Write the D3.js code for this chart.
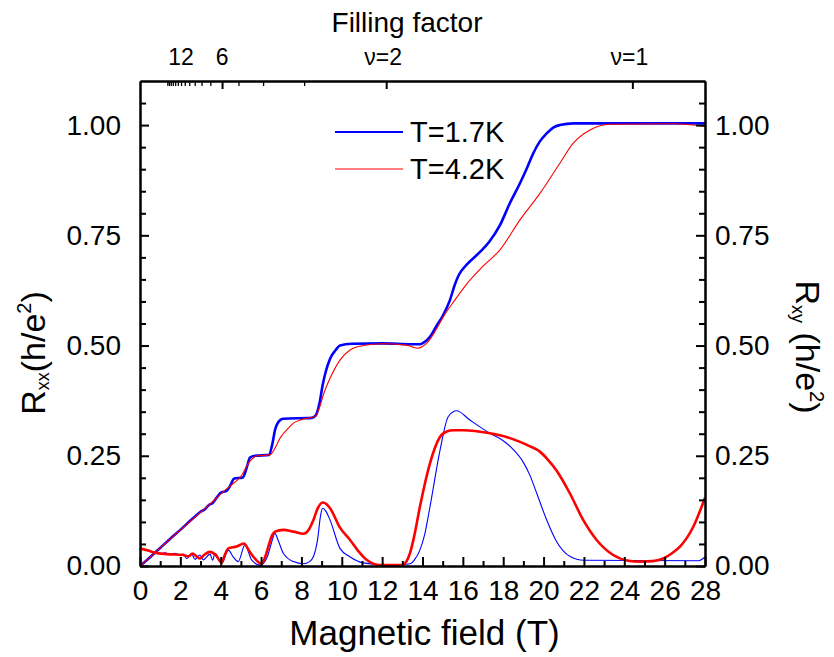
<!DOCTYPE html>
<html>
<head>
<meta charset="utf-8">
<script src="https://cdn.jsdelivr.net/npm/d3@7.9.0/dist/d3.min.js"></script>
<style>
  body { margin: 0; background: #fff; }
  svg text { font-family: Arial, "Liberation Sans", sans-serif; fill: #000; }
</style>
</head>
<body>
<div id="chart"></div>
<script>
// Hall resistance Rxy (h/e^2) vs field (T)
const rxyBlue = [[0,0],[0.5,0.02],[1,0.041],[1.5,0.062],[2,0.082],[2.5,0.103],[2.8,0.115],[3.0,0.123],[3.2,0.128],
  [3.4,0.138],[3.6,0.143],[3.8,0.155],[4.0,0.166],[4.3,0.171],[4.5,0.185],[4.65,0.198],[5.1,0.201],[5.3,0.225],
  [5.45,0.246],[5.7,0.25],[6.4,0.252],[6.55,0.275],[6.7,0.31],[6.85,0.326],[7.1,0.334],[8.5,0.336],[8.7,0.341],
  [8.9,0.37],[9.05,0.41],[9.2,0.44],[9.42,0.47],[9.7,0.49],[9.91,0.5],[10.5,0.504],[12,0.505],[13.5,0.503],
  [13.87,0.503],[14.1,0.508],[14.37,0.52],[14.7,0.545],[15.0,0.567],[15.36,0.603],[15.6,0.638],[15.8,0.66],
  [16.2,0.684],[16.8,0.71],[17.3,0.735],[17.84,0.773],[18.3,0.82],[18.83,0.868],[19.2,0.905],[19.49,0.936],
  [19.8,0.962],[20.15,0.981],[20.5,0.995],[20.8,1.0],[21.5,1.004],[28,1.004]];
const rxyRed = [[0,0],[0.5,0.02],[1,0.041],[2,0.082],[3,0.122],[3.5,0.142],[4,0.163],[4.5,0.183],[5,0.203],
  [5.45,0.238],[5.8,0.25],[6.44,0.252],[6.7,0.268],[6.94,0.29],[7.3,0.31],[7.6,0.324],[8.0,0.332],[8.67,0.339],
  [8.9,0.36],[9.1,0.39],[9.42,0.426],[9.91,0.467],[10.41,0.49],[11.07,0.5],[12,0.504],[13.2,0.501],[13.5,0.497],
  [13.74,0.494],[14.0,0.498],[14.2,0.505],[14.6,0.53],[15.03,0.565],[15.6,0.603],[16.2,0.64],[17,0.68],
  [17.84,0.717],[18.83,0.785],[19.82,0.845],[20.8,0.913],[21.47,0.959],[22.3,0.989],[23.29,1.002],[26.5,1.003],[28,0.997]];

// Longitudinal resistance Rxx
const rxxBlue = [[0.75,0.03],[1.0,0.028],[1.24,0.03],[1.5,0.026],[1.7,0.029],[1.98,0.025],[2.15,0.027],[2.31,0.017],
  [2.56,0.027],[2.73,0.015],[2.97,0.025],[3.14,0.014],[3.47,0.027],[3.6,0.013],[3.72,0.029],[4.05,0.006],[4.38,0.036],
  [4.6,0.022],[4.87,0.01],[5.2,0.048],[5.53,0.014],[5.95,0.002],[6.3,0.02],[6.5,0.05],[6.69,0.074],[6.85,0.058],
  [7.1,0.029],[7.6,0.01],[8.1,0.005],[8.4,0.01],[8.59,0.021],[8.8,0.06],[8.95,0.115],[9.05,0.131],[9.2,0.125],
  [9.42,0.104],[9.91,0.04],[10.4,0.021],[11.07,0.007],[12,0.003],[12.9,0.003],[13.38,0.005],[13.6,0.014],
  [13.87,0.036],[14.1,0.07],[14.37,0.134],[14.87,0.263],[15.28,0.339],[15.69,0.352],[16.35,0.331],[17.34,0.301],
  [18.0,0.284],[18.5,0.264],[19.0,0.235],[19.33,0.205],[19.66,0.165],[20.15,0.105],[20.65,0.055],[21.3,0.022],
  [22.0,0.013],[27.7,0.012],[28,0.021]];
const rxxRed = [[0,0.04],[0.4,0.035],[0.74,0.03],[1.32,0.027],[2.15,0.025],[2.4,0.022],[2.6,0.028],[2.8,0.022],
  [2.97,0.017],[3.2,0.026],[3.47,0.032],[3.75,0.025],[4.05,0.008],[4.2,0.025],[4.38,0.04],[4.79,0.044],[5.15,0.051],
  [5.4,0.035],[5.62,0.021],[6.03,0.005],[6.2,0.02],[6.36,0.044],[6.55,0.07],[6.69,0.078],[7.1,0.082],[7.6,0.078],
  [8.1,0.073],[8.4,0.085],[8.59,0.104],[8.8,0.13],[9.05,0.144],[9.25,0.14],[9.42,0.131],[9.91,0.087],[10.41,0.059],
  [10.8,0.035],[11.23,0.014],[11.89,0.002],[12.97,0.002],[13.2,0.01],[13.38,0.029],[13.6,0.07],[13.87,0.134],
  [14.37,0.233],[14.87,0.293],[15.2,0.305],[15.53,0.308],[16.02,0.308],[17.34,0.301],[18.2,0.292],[18.8,0.282],
  [19.3,0.272],[19.8,0.26],[20.2,0.242],[20.65,0.216],[21.3,0.165],[21.97,0.104],[22.63,0.059],[23.45,0.025],
  [24.2,0.012],[24.78,0.01],[25.4,0.011],[25.93,0.017],[26.4,0.03],[26.76,0.044],[27.42,0.089],[28,0.155]];

const xTicks = d3.range(0, 29, 2);
const xMinor = d3.range(1, 28, 2);
const yTicks = [0, 0.25, 0.5, 0.75, 1.0];
const yMinor = [0.05,0.1,0.15,0.2,0.3,0.35,0.4,0.45,0.55,0.6,0.65,0.7,0.8,0.85,0.9,0.95,1.05];
// filling factor nu = nuB / B
const nuB = 24.4;
const nuTicks = d3.range(1, 19);
const nuLong = [1, 2, 6];
const nuLabels = [[12, "12"], [6, "6"], [2, "ν=2"], [1, "ν=1"]];
const legendItems = [["T=1.7K", "#0000ff", 2], ["T=4.2K", "#ff0000", 1]];

const W = 834, H = 657;
const margin = { top: 81, right: 129, bottom: 91, left: 140 },
      width  = W - margin.left - margin.right,
      height = H - margin.top - margin.bottom;

const svg = d3.select("#chart").append("svg")
  .attr("width", W).attr("height", H)
  .append("g")
  .attr("transform", `translate(${margin.left},${margin.top})`);

const x = d3.scaleLinear().domain([0, 28]).range([0, width]);
const y = d3.scaleLinear().domain([0, 1.1]).range([height, 0]);

svg.append("clipPath").attr("id", "clip")
  .append("rect").attr("width", width).attr("height", height);

// curves
const line = d3.line().x(d => x(d[0])).y(d => y(d[1])).curve(d3.curveMonotoneX);
const series = [
  [rxyBlue, "#0000ff", 2.6],
  [rxxBlue, "#0000ff", 1.1],
  [rxyRed, "#ff0000", 1.1],
  [rxxRed, "#ff0000", 2.6]
];
svg.append("g").attr("clip-path", "url(#clip)")
  .selectAll("path").data(series).join("path")
  .attr("d", d => line(d[0]))
  .attr("fill", "none")
  .attr("stroke", d => d[1])
  .attr("stroke-width", d => d[2])
  .attr("stroke-linejoin", "round");

// axes
function styleAxis(g) {
  g.select(".domain").attr("stroke", "#000").attr("stroke-width", 2);
  g.selectAll(".tick line").attr("stroke", "#000").attr("stroke-width", 2);
  g.selectAll("text").attr("font-size", 28).attr("font-family", "Arial, 'Liberation Sans', sans-serif");
}

svg.append("g").attr("transform", `translate(0,${height})`)
  .call(d3.axisBottom(x).tickValues(xTicks).tickFormat(d3.format("d")).tickSizeInner(-9).tickSizeOuter(0).tickPadding(14))
  .call(styleAxis);
svg.append("g").attr("transform", `translate(0,${height})`)
  .call(d3.axisBottom(x).tickValues(xMinor).tickFormat("").tickSizeInner(-5).tickSizeOuter(0))
  .call(styleAxis);

svg.append("g")
  .call(d3.axisLeft(y).tickValues(yTicks).tickFormat(d3.format(".2f")).tickSizeInner(-9).tickSizeOuter(0).tickPadding(19))
  .call(styleAxis);
svg.append("g")
  .call(d3.axisLeft(y).tickValues(yMinor).tickFormat("").tickSizeInner(-6).tickSizeOuter(0))
  .call(styleAxis);

svg.append("g").attr("transform", `translate(${width},0)`)
  .call(d3.axisRight(y).tickValues(yTicks).tickFormat(d3.format(".2f")).tickSizeInner(-9).tickSizeOuter(0).tickPadding(10))
  .call(styleAxis);
svg.append("g").attr("transform", `translate(${width},0)`)
  .call(d3.axisRight(y).tickValues(yMinor).tickFormat("").tickSizeInner(-6).tickSizeOuter(0))
  .call(styleAxis);

// top axis: filling factor
svg.append("g")
  .call(d3.axisTop(x).tickValues(nuTicks.filter(n => !nuLong.includes(n)).map(n => nuB / n)).tickFormat("").tickSizeInner(-5).tickSizeOuter(0))
  .call(styleAxis)
  .call(g => g.selectAll(".tick line").attr("stroke-width", 1.3));
svg.append("g")
  .call(d3.axisTop(x).tickValues(nuLong.map(n => nuB / n)).tickFormat("").tickSizeInner(-8).tickSizeOuter(0))
  .call(styleAxis);

svg.selectAll(".nu-label").data(nuLabels).join("text")
  .attr("class", "nu-label")
  .attr("x", d => x(nuB / d[0]) - (d[0] <= 2 ? 3 : 0))
  .attr("y", 65 - margin.top)
  .attr("text-anchor", "middle")
  .attr("font-size", 23)
  .text(d => d[1]);

svg.append("text")
  .attr("x", 407 - margin.left)
  .attr("y", 32 - margin.top)
  .attr("text-anchor", "middle")
  .attr("font-size", 28)
  .text("Filling factor");

// bottom title
svg.append("text")
  .attr("x", width / 2 + 2)
  .attr("y", 645 - margin.top)
  .attr("text-anchor", "middle")
  .attr("font-size", 35)
  .text("Magnetic field (T)");

// left title
const lt = svg.append("text")
  .attr("transform", `translate(${45 - margin.left},${353 - margin.top}) rotate(-90)`)
  .attr("text-anchor", "middle")
  .attr("font-size", 34);
lt.append("tspan").text("R");
lt.append("tspan").attr("font-size", 18).attr("dy", 4).text("xx");
lt.append("tspan").attr("dy", -4).text("(h/e");
lt.append("tspan").attr("font-size", 20).attr("dy", -14).text("2");
lt.append("tspan").attr("dy", 14).text(")");

// right title
const rt = svg.append("text")
  .attr("transform", `translate(${796 - margin.left},${347 - margin.top}) rotate(90)`)
  .attr("text-anchor", "middle")
  .attr("font-size", 34);
rt.append("tspan").text("R");
rt.append("tspan").attr("font-size", 18).attr("dy", 4).text("xy");
rt.append("tspan").attr("dy", -4).text(" (h/e");
rt.append("tspan").attr("font-size", 20).attr("dy", -14).text("2");
rt.append("tspan").attr("dy", 14).text(")");

// legend
const legend = svg.append("g").attr("transform", `translate(${335 - margin.left},${132 - margin.top})`);
const li = legend.selectAll("g").data(legendItems).join("g")
  .attr("transform", (d, i) => `translate(0,${i * 37})`);
li.append("line").attr("x1", 0).attr("x2", 68).attr("y1", 0).attr("y2", 0)
  .attr("stroke", d => d[1]).attr("stroke-width", d => d[2]);
li.append("text").attr("x", 75).attr("y", 10).attr("font-size", 29).text(d => d[0]);
</script>
</body>
</html>
